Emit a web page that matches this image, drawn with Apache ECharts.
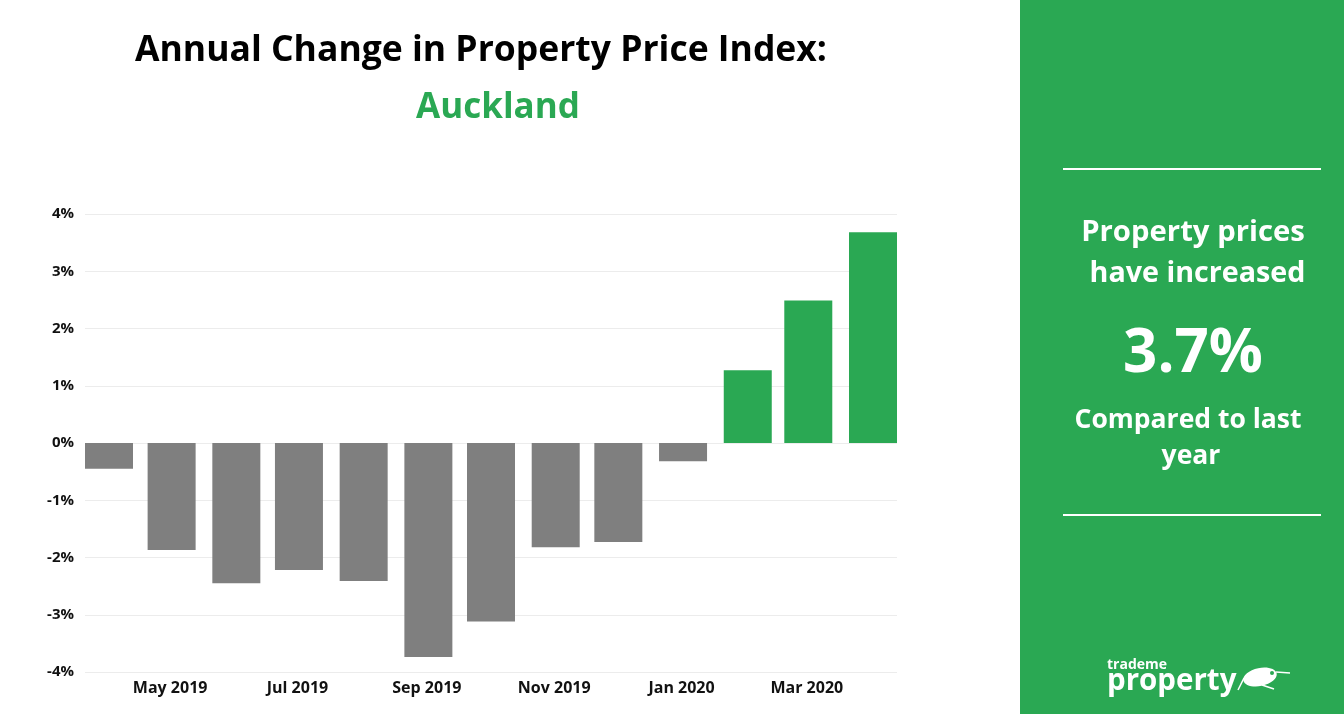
<!DOCTYPE html>
<html>
<head>
<meta charset="utf-8">
<style>
  html, body { margin: 0; padding: 0; background: #fff; }
  #main { width: 1344px; height: 714px; }
</style>
<script src="https://cdn.jsdelivr.net/npm/echarts@6/dist/echarts.min.js"></script>
</head>
<body>
<div id="main"></div>
<script>
const months = ['2019-04-01', '2019-05-01', '2019-06-01', '2019-07-01', '2019-08-01', '2019-09-01',
  '2019-10-01', '2019-11-01', '2019-12-01', '2020-01-01', '2020-02-01', '2020-03-01', '2020-04-01']
const changes = [-0.45, -1.87, -2.45, -2.22, -2.41, -3.74, -3.12, -1.82, -1.73, -0.32, 1.27, 2.49, 3.68]
const labelMonths = ['2019-05-01', '2019-07-01', '2019-09-01', '2019-11-01', '2020-01-01', '2020-03-01']
const yTicks = [-4, -3, -2, -1, 0, 1, 2, 3, 4]

const GREEN = '#2aa853'
const GREY = '#7f7f7f'
const FONT = '"Open Sans", "Noto Sans", sans-serif'

const time = s => new Date(s + 'T00:00:00').getTime()

var myChart = echarts.init(document.getElementById('main'))

// white text on the green panel
function panelText(text, x, y, size, align) {
  return {
    type: 'text',
    x: x,
    y: y,
    style: { text: text, fill: '#fff', font: '700 ' + size + 'px ' + FONT, align: align || 'center', verticalAlign: 'middle' }
  }
}

myChart.setOption({
  animation: false,
  backgroundColor: '#fff',
  textStyle: { fontFamily: FONT },
  title: [
    {
      text: 'Annual Change in Property Price Index:',
      left: 476, top: 46, textAlign: 'center', textVerticalAlign: 'middle',
      textStyle: { fontSize: 35.5, fontWeight: 700, color: '#000', fontFamily: FONT }
    },
    {
      text: 'Auckland',
      left: 493, top: 103, textAlign: 'center', textVerticalAlign: 'middle',
      textStyle: { fontSize: 35, fontWeight: 700, color: GREEN, fontFamily: FONT }
    }
  ],
  grid: { left: 85, right: 447, top: 214, bottom: 42 },
  xAxis: {
    type: 'time',
    // the bars push the axis out by half a bar on each side
    min: time(months[0]),
    max: time(months[months.length - 1]),
    axisLine: { show: false },
    axisTick: { show: false },
    splitLine: { show: false },
    axisLabel: {
      customValues: labelMonths.map(time),
      formatter: '{MMM} {yyyy}',
      color: '#111',
      fontSize: 16,
      fontWeight: 700,
      fontFamily: FONT,
      margin: 8,
      padding: [0, 3, 0, 0],
      hideOverlap: false
    }
  },
  yAxis: {
    type: 'value',
    min: yTicks[0],
    max: yTicks[yTicks.length - 1],
    interval: 1,
    axisLine: { show: false },
    axisTick: { show: false },
    splitLine: { lineStyle: { color: '#ececec', width: 1 } },
    axisLabel: {
      formatter: '{value}%',
      color: '#111',
      fontSize: 15,
      fontWeight: 700,
      fontFamily: FONT,
      margin: 11,
      padding: [2, 0, 0, 0]
    }
  },
  series: [{
    type: 'bar',
    barWidth: 48,
    data: months.map((m, i) => ({
      value: [time(m), changes[i]],
      itemStyle: { color: changes[i] < 0 ? GREY : GREEN }
    }))
  }],
  graphic: [
    { type: 'rect', z: -1, shape: { x: 1020, y: 0, width: 324, height: 714 }, style: { fill: GREEN } },
    { type: 'rect', shape: { x: 1063, y: 168, width: 258, height: 2 }, style: { fill: '#fff' } },
    { type: 'rect', shape: { x: 1063, y: 514, width: 258, height: 2 }, style: { fill: '#fff' } },
    panelText('Property prices', 1193, 233, 29.3),
    panelText('have increased', 1197.5, 274, 28.7),
    panelText('3.7%', 1193, 355, 60),
    panelText('Compared to last', 1188, 420, 26.5),
    panelText('year', 1191, 456, 26.5),
    panelText('trademe', 1107, 665, 14, 'left'),
    panelText('property', 1107, 682, 29.5, 'left'),
    // kiwi in the logo
    { type: 'ellipse', shape: { cx: 1260, cy: 677, rx: 17, ry: 9 }, rotation: 0.2, originX: 1260, originY: 677, style: { fill: '#fff' } },
    { type: 'circle', z: 10, shape: { cx: 1272, cy: 673, r: 2 }, style: { fill: GREEN } },
    { type: 'line', shape: { x1: 1276, y1: 672, x2: 1290, y2: 673 }, style: { stroke: '#fff', lineWidth: 1.5 } },
    { type: 'line', shape: { x1: 1244, y1: 678, x2: 1238, y2: 690 }, style: { stroke: '#fff', lineWidth: 1.5 } },
    { type: 'line', shape: { x1: 1262, y1: 685, x2: 1274, y2: 689 }, style: { stroke: '#fff', lineWidth: 1.5 } }
  ]
})
</script>
</body>
</html>
